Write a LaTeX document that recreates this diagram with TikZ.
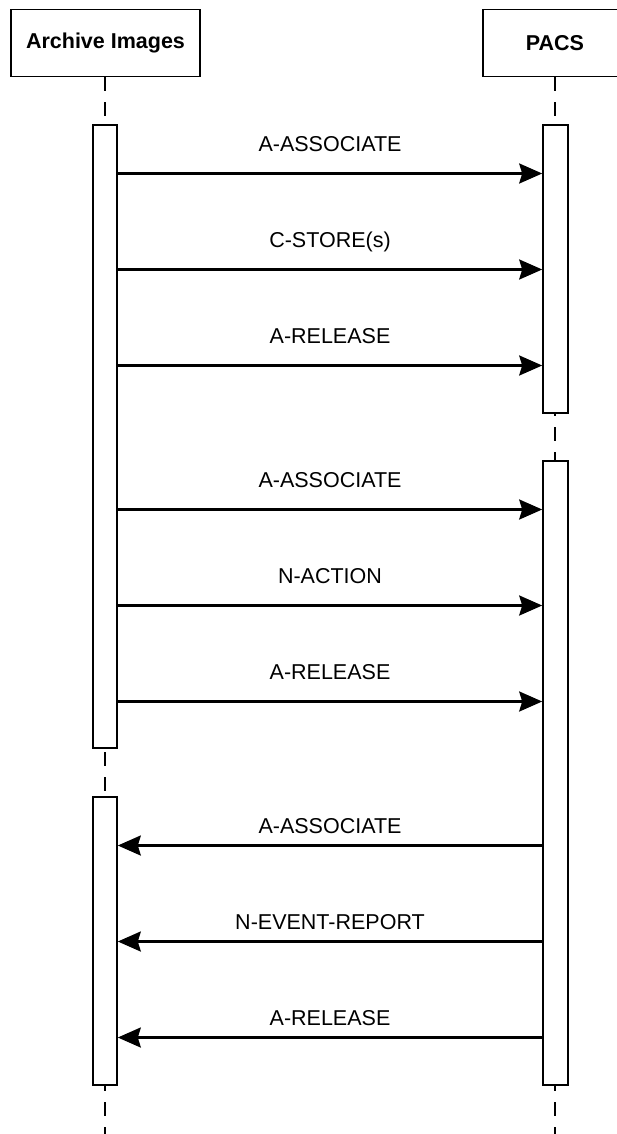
\documentclass[tikz,border=0pt]{standalone}
\usepackage{fontspec}
\setmainfont{Liberation Sans}
\usetikzlibrary{arrows.meta}
\begin{document}
\begin{tikzpicture}[x=1pt,y=-1pt,
 head/.style={draw, line width=1.6pt, minimum height=67pt, font=\fontsize{21.5}{25}\selectfont\bfseries, inner sep=0},
 bar/.style={draw, fill=white, line width=1.6pt, inner sep=0},
 life/.style={line width=1.6pt, dash pattern=on 14pt off 11pt},
 msg/.style={line width=2.5pt, -{Stealth[length=23pt,width=20pt,inset=3pt]}},
 lbl/.style={font=\fontsize{21.5}{25}\selectfont, inner sep=0}]
\useasboundingbox (0,0) rectangle (617,1134);
\clip (0,0) rectangle (617,1134);
% headers
\node[head, minimum width=189pt] (A) at (105.5,43) {Archive Images};
\node[head, minimum width=144pt] (P) at (555,43) {PACS};
% lifelines
\coordinate (Aend) at (105,1134);
\coordinate (Pend) at (555,1134);
\draw[life] (A.south -| Aend) -- (Aend);
\draw[life] (P.south -| Pend) -- (Pend);
% activation bars
\node[bar, minimum width=24pt, minimum height=623pt] (L1) at (105,436.5) {};
\node[bar, minimum width=24pt, minimum height=288pt] (L2) at (105,941) {};
\node[bar, minimum width=25pt, minimum height=288pt] (R1) at (555.5,269) {};
\node[bar, minimum width=25pt, minimum height=624pt] (R2) at (555.5,773) {};
% message rows
\coordinate (m1) at (0,173.5);
\coordinate (m2) at (0,269.5);
\coordinate (m3) at (0,365.5);
\coordinate (m4) at (0,509.5);
\coordinate (m5) at (0,605.5);
\coordinate (m6) at (0,701.5);
\coordinate (m7) at (0,845.5);
\coordinate (m8) at (0,941.5);
\coordinate (m9) at (0,1037.5);
% messages
\draw[msg] (L1.east |- m1) -- node[lbl, above=22.4pt, anchor=base] (t1) {A-ASSOCIATE} (R1.west |- m1);
\draw[msg] (L1.east |- m2) -- node[lbl, above=22.4pt, anchor=base] (t2) {C-STORE(s)} (R1.west |- m2);
\draw[msg] (L1.east |- m3) -- node[lbl, above=22.4pt, anchor=base] (t3) {A-RELEASE} (R1.west |- m3);
\draw[msg] (L1.east |- m4) -- node[lbl, above=22.4pt, anchor=base] (t4) {A-ASSOCIATE} (R2.west |- m4);
\draw[msg] (L1.east |- m5) -- node[lbl, above=22.4pt, anchor=base] (t5) {N-ACTION} (R2.west |- m5);
\draw[msg] (L1.east |- m6) -- node[lbl, above=22.4pt, anchor=base] (t6) {A-RELEASE} (R2.west |- m6);
\draw[msg] (R2.west |- m7) -- node[lbl, above=12.4pt, anchor=base] (t7) {A-ASSOCIATE} (L2.east |- m7);
\draw[msg] (R2.west |- m8) -- node[lbl, above=12.4pt, anchor=base] (t8) {N-EVENT-REPORT} (L2.east |- m8);
\draw[msg] (R2.west |- m9) -- node[lbl, above=12.4pt, anchor=base] (t9) {A-RELEASE} (L2.east |- m9);
\end{tikzpicture}
\end{document}
